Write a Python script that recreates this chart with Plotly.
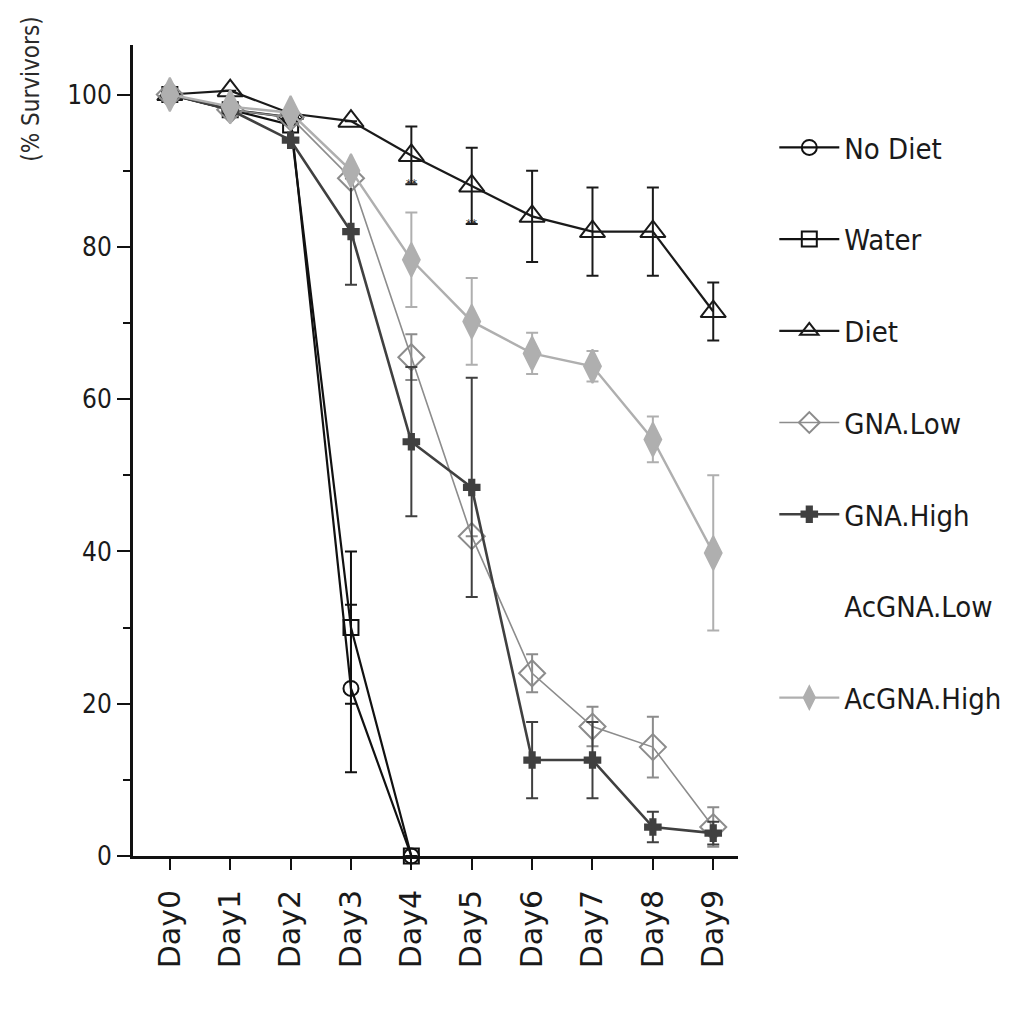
import plotly.graph_objects as go

days = ["Day0", "Day1", "Day2", "Day3", "Day4", "Day5", "Day6", "Day7", "Day8", "Day9"]

no_diet = [100, 98, 97, 22, 0, None, None, None, None, None]
no_diet_err = [None, None, None, 11, None, None, None, None, None, None]

water = [100, 98, 96, 30, 0, None, None, None, None, None]
water_err = [None, None, None, 10, None, None, None, None, None, None]

diet = [100, 100.5, 97.5, 96.5, 92, 88, 84, 82, 82, 71.5]
diet_err = [None, None, None, None, 3.8, 5, 6, 5.8, 5.8, 3.8]

gna_low = [100, 98, 97, 89, 65.5, 42, 24, 17, 14.3, 3.8]
gna_low_err = [None, None, None, None, 3, None, 2.5, 2.6, 4, 2.6]

gna_high = [100, 98, 94, 82, 54.4, 48.4, 12.6, 12.6, 3.8, 3.0]
gna_high_err = [None, None, None, 7, 9.8, 14.4, 5, 5, 2, 1.5]

acgna_low = [None] * 10

acgna_high = [100, 98.4, 97.6, 90, 78.3, 70.2, 66, 64.3, 54.7, 39.8]
acgna_high_err = [None, None, None, None, 6.2, 5.7, 2.7, 2, 3, 10.2]

stars_x = ["Day4", "Day5"]
stars_y = [88.3, 83]

series = [
    ("No Diet", no_diet, no_diet_err, "#111111", "circle-open", 15, 2.2),
    ("Water", water, water_err, "#111111", "square-open", 15, 2.2),
    ("Diet", diet, diet_err, "#1a1a1a", "triangle-up-open", 22, 2.2),
    ("GNA.Low", gna_low, gna_low_err, "#8c8c8c", "diamond-open", 20, 1.6),
    ("GNA.High", gna_high, gna_high_err, "#404040", "cross", 13, 2.6),
    ("AcGNA.Low", acgna_low, [None] * 10, "#ffffff", "circle", 10, 2),
    ("AcGNA.High", acgna_high, acgna_high_err, "#afafaf", "diamond-tall", 24, 2.4),
]

font_main = "Liberation Sans Narrow, DejaVu Sans Condensed, Liberation Sans, sans-serif"

fig = go.Figure()
for i, (name, ys, errs, color, sym, size, lw) in enumerate(series):
    fig.add_trace(go.Scatter(
        x=days, y=ys, name=name, mode="lines+markers",
        line=dict(color=color, width=lw),
        marker=dict(symbol=sym, size=size, color=color,
                    line=dict(color=color, width=2)),
        error_y=dict(type="data", array=errs, visible=True, color=color,
                     thickness=2, width=6),
        legendgroup=f"g{i}", cliponaxis=False, connectgaps=False,
    ))

for xs, ysv in zip(stars_x, stars_y):
    fig.add_annotation(x=xs, y=ysv, text="**", showarrow=False,
                       font=dict(size=12, color="#222222"))

fig.add_annotation(
    xref="paper", yref="paper", x=-0.17, y=0.945, xanchor="center", yanchor="middle",
    text="(% Survivors)", textangle=-90, showarrow=False,
    font=dict(size=24, color="#2a2a2a", family=font_main),
)

fig.update_layout(
    width=1011, height=1023,
    margin=dict(l=125, r=279, t=37, b=175),
    paper_bgcolor="white", plot_bgcolor="white",
    font=dict(family=font_main, color="#1a1a1a"),
    legend=dict(
        x=1.06, xanchor="left", y=0.905, yanchor="top",
        font=dict(size=29, family=font_main, color="#1a1a1a"),
        tracegroupgap=51, bgcolor="rgba(0,0,0,0)", itemwidth=60,
    ),
    showlegend=True,
)

fig.update_xaxes(
    type="category", categoryorder="array", categoryarray=days,
    range=[-0.61, 9.41], showgrid=False, zeroline=False,
    showline=True, linecolor="#111111", linewidth=3,
    ticks="outside", ticklen=11, tickwidth=2, tickcolor="#111111",
    tickangle=-90, tickfont=dict(size=30, family="DejaVu Sans", color="#1a1a1a"),
    ticklabelstandoff=8,
)
fig.update_yaxes(
    range=[0, 106.5], showgrid=False, zeroline=False,
    showline=True, linecolor="#111111", linewidth=3,
    tickvals=[0, 20, 40, 60, 80, 100],
    ticks="outside", ticklen=13, tickwidth=2, tickcolor="#111111",
    minor=dict(ticks="outside", ticklen=7, tickwidth=2, tickcolor="#111111", dtick=10, tick0=0),
    tickfont=dict(size=26, family=font_main, color="#1a1a1a"),
)

fig.write_html("out.html")
